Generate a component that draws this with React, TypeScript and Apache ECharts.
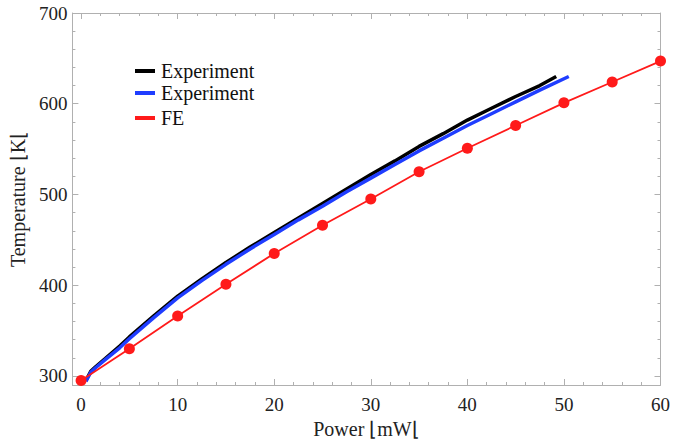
import React, { useEffect, useRef } from "react";
import * as echarts from "echarts";

const blackX = [0.5, 1, 1.5, 2.5, 4, 5, 7.5, 10, 12.5, 15, 17.5, 20, 22.5, 25, 27.5, 30, 32.5, 35, 37.5, 40, 42.5, 45, 47.5, 49.2];
const blackY = [295, 305, 310, 319, 333, 343, 366, 388, 407, 425, 442, 458, 474, 490, 506, 522, 537, 553, 567, 582, 595, 608, 620, 630];
const blueX = [0.5, 1, 1.5, 2.5, 4, 5, 7.5, 10, 12.5, 15, 17.5, 20, 22.5, 25, 27.5, 30, 32.5, 35, 37.5, 40, 42.5, 45, 47.5, 50.5];
const blueY = [294, 304, 309, 318, 331, 341, 364, 386, 405, 423, 440, 456, 472, 487, 503, 518, 533, 548, 562, 576, 589, 602, 615, 630];
const feX = [0, 5, 10, 15, 20, 25, 30, 35, 40, 45, 50, 55, 60];
const feY = [295, 330, 366, 401, 435, 466, 495, 525, 551, 576, 601, 624, 647];

const xMajor = [0, 10, 20, 30, 40, 50, 60];
const xMinor = [2, 4, 6, 8, 12, 14, 16, 18, 22, 24, 26, 28, 32, 34, 36, 38, 42, 44, 46, 48, 52, 54, 56, 58];
const yMajor = [300, 400, 500, 600, 700];
const yMinor = [320, 340, 360, 380, 420, 440, 460, 480, 520, 540, 560, 580, 620, 640, 660, 680];

const legendNames = ["Experiment", "Experiment", "FE"];
const colors = ["#000000", "#1f3dff", "#ff1a1a"];

const FONT = "Liberation Serif";
const FRAME = "#b0b0b0";

function pairs(xs: number[], ys: number[]) {
  return xs.map((x, i) => [x, ys[i]]);
}

export default function App() {
  const ref = useRef<HTMLDivElement>(null);
  useEffect(() => {
    if (!ref.current) return;
    const chart = echarts.init(ref.current, null, { renderer: "svg" });
    const xMin = -0.9, xMax = 60, yMin = 290, yMax = 700;
    const baseX = (pos: string, labels: boolean, ticks: number[], len: number, line: boolean, extra: any = {}) => ({
      type: "value", min: xMin, max: xMax, position: pos,
      axisLine: { show: line, onZero: false, lineStyle: { color: FRAME, width: 1 } },
      axisTick: { show: true, inside: true, length: len, customValues: ticks, lineStyle: { color: FRAME } },
      axisLabel: labels
        ? { show: true, customValues: ticks, color: "#222", fontFamily: FONT, fontSize: 19, margin: 10 }
        : { show: false },
      splitLine: { show: false },
      ...extra,
    });
    const baseY = (pos: string, labels: boolean, ticks: number[], len: number, line: boolean, extra: any = {}) => ({
      type: "value", min: yMin, max: yMax, position: pos,
      axisLine: { show: line, onZero: false, lineStyle: { color: FRAME, width: 1 } },
      axisTick: { show: true, inside: true, length: len, customValues: ticks, lineStyle: { color: FRAME } },
      axisLabel: labels
        ? { show: true, customValues: ticks, color: "#222", fontFamily: FONT, fontSize: 19, margin: 5 }
        : { show: false },
      splitLine: { show: false },
      ...extra,
    });
    const legendY = [71, 93, 118];
    const graphics: any[] = [];
    legendNames.forEach((n, i) => {
      graphics.push({
        type: "line", shape: { x1: 135, y1: legendY[i], x2: 155, y2: legendY[i] },
        style: { stroke: colors[i], lineWidth: 4 },
      });
      graphics.push({
        type: "text", x: 161, y: legendY[i],
        style: { text: n, fill: "#111", font: `20px "${FONT}"`, verticalAlign: "middle", align: "left" },
      });
    });
    chart.setOption({
      animation: false,
      backgroundColor: "#ffffff",
      grid: { left: 71, right: 9, top: 13, bottom: 55 },
      xAxis: [
        baseX("bottom", true, xMajor, 6, true, {
          name: "Power ⌊mW⌊", nameLocation: "middle", nameGap: 34,
          nameTextStyle: { color: "#222", fontFamily: FONT, fontSize: 20 },
        }),
        baseX("bottom", false, xMinor, 3, false),
        baseX("top", false, xMajor, 6, true),
        baseX("top", false, xMinor, 3, false),
      ],
      yAxis: [
        baseY("left", true, yMajor, 6, true, {
          name: "Temperature ⌊K⌊", nameLocation: "middle", nameGap: 34,
          nameTextStyle: { color: "#222", fontFamily: FONT, fontSize: 20 },
        }),
        baseY("left", false, yMinor, 3, false),
        baseY("right", false, yMajor, 6, true),
        baseY("right", false, yMinor, 3, false),
      ],
      graphic: graphics,
      series: [
        {
          type: "line", name: "Experiment black", data: pairs(blackX, blackY),
          showSymbol: false, symbol: "none", lineStyle: { color: colors[0], width: 3.5 },
        },
        {
          type: "line", name: "Experiment blue", data: pairs(blueX, blueY),
          showSymbol: false, symbol: "none", lineStyle: { color: colors[1], width: 3.5 },
        },
        {
          type: "line", name: "FE", data: pairs(feX, feY),
          symbol: "circle", symbolSize: 11, itemStyle: { color: colors[2] },
          lineStyle: { color: colors[2], width: 1.8 },
        },
      ],
    });
    return () => chart.dispose();
  }, []);
  return (
    <div
      ref={ref}
      style={{ position: "fixed", left: 0, top: 0, width: 673, height: 444, background: "#fff" }}
    />
  );
}
